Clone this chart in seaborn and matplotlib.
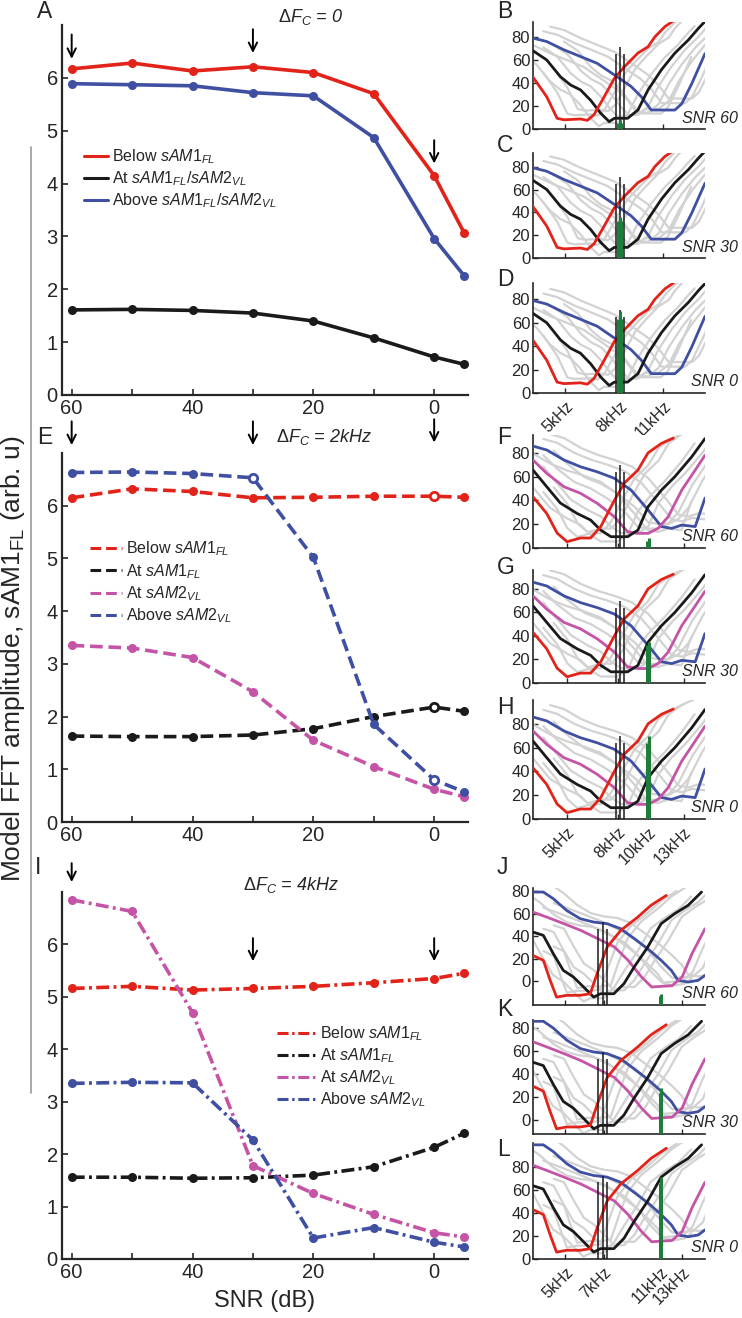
import matplotlib
matplotlib.use("Agg")
import matplotlib.pyplot as plt
from matplotlib.lines import Line2D
import numpy as np
import pandas as pd
import seaborn as sns

W, H = 742, 1318

# ---- main panels: model FFT amplitude vs SNR
snr = [60, 50, 40, 30, 20, 10, 0, -5]

a_below = [6.17, 6.28, 6.13, 6.21, 6.10, 5.70, 4.15, 3.06]
a_at = [1.61, 1.62, 1.60, 1.55, 1.40, 1.08, 0.72, 0.58]
a_above = [5.89, 5.87, 5.85, 5.72, 5.66, 4.87, 2.96, 2.25]

e_below = [6.15, 6.32, 6.27, 6.15, 6.16, 6.18, 6.18, 6.16]
e_at1 = [1.63, 1.62, 1.62, 1.65, 1.77, 2.00, 2.18, 2.10]
e_at2 = [3.35, 3.30, 3.12, 2.47, 1.55, 1.05, 0.62, 0.48]
e_above = [6.63, 6.64, 6.61, 6.53, 5.02, 1.85, 0.80, 0.57]

i_below = [5.16, 5.20, 5.13, 5.16, 5.20, 5.27, 5.35, 5.45]
i_at1 = [1.56, 1.56, 1.54, 1.55, 1.60, 1.76, 2.13, 2.40]
i_at2 = [6.85, 6.63, 4.70, 1.78, 1.25, 0.85, 0.50, 0.42]
i_above = [3.35, 3.37, 3.36, 2.27, 0.40, 0.60, 0.32, 0.23]

# hollow markers in E
e_hollow_series = ["above", "below", "at1", "above"]
e_hollow_snr = [30, 0, 0, 0]

# arrows (snr, top, tip)
arrow_snr = [60, 30, 0]
a_arrow_top = [6.82, 6.92, 4.82]
a_arrow_tip = [6.36, 6.47, 4.38]
e_arrow_top = [7.60, 7.60, 7.64]
e_arrow_tip = [7.15, 7.15, 7.20]
i_arrow_top = [7.55, 6.12, 6.12]
i_arrow_tip = [7.19, 5.68, 5.68]

# ---- right panels: tuning curves (x in % of panel width)
red_bd_x = [0, 8, 14, 18, 27.6, 31.6, 35.5, 41.4, 47.3, 53.1, 61, 66.9, 70.8, 76.7, 81.6]
red_bd_y = [45, 28, 9.3, 8, 8.7, 7.5, 12.5, 28, 44, 54, 66, 71.5, 80, 89, 94]
black_bd_x = [0, 8, 15.9, 21.8, 27.6, 33.5, 39.4, 44.3, 47.3, 55, 61, 66.9, 74.7, 82.5, 90.4, 96.3, 100]
black_bd_y = [68, 60, 45.5, 38.3, 34, 25, 13.6, 6.4, 9.3, 9.3, 16.5, 34, 51.6, 66, 77.5, 87.7, 93.5]
blue_bd_x = [0, 8, 18, 27.6, 37.4, 47.3, 57, 63, 68.8, 74.7, 82.5, 86.5, 92.3, 100]
blue_bd_y = [79, 76, 68.8, 63, 57, 47, 37, 28, 16.5, 16.5, 16.5, 22, 39.4, 65.5]

red_fh_x = [0, 8, 14, 19.8, 27.6, 33.5, 39.4, 47.3, 53.1, 61, 66.9, 74.7, 81.6]
red_fh_y = [43, 29, 12.6, 5.3, 8.4, 8.4, 18, 40, 54.6, 65.5, 80, 88, 92.4]
black_fh_x = [0, 8, 15.9, 25.7, 33.5, 39.4, 45.3, 55, 61, 66.9, 74.7, 82.5, 92.3, 100]
black_fh_y = [65.5, 51.5, 37.8, 29, 23.5, 15, 9.5, 9.5, 15, 34.7, 48.7, 60, 76.7, 92]
blue_fh_x = [0, 8, 18, 27.6, 37.4, 47.3, 57, 66.9, 74.7, 80.6, 86.5, 94.3, 100]
blue_fh_y = [85.7, 82.4, 74, 68.3, 64, 58.6, 48.7, 32, 18, 16.5, 19.3, 18, 42]
mag_fh_x = [0, 8, 18, 27.6, 37.4, 47.3, 55, 61, 66.9, 72.7, 78.6, 86.5, 94.3, 100]
mag_fh_y = [74, 62.7, 51.5, 46, 37.5, 26.3, 13.7, 12.3, 12.3, 16.5, 26.3, 48.7, 65.5, 78]

red_jl_x = [0, 6, 10, 13.7, 19.6, 27.5, 33.3, 37.3, 43.1, 51, 60.8, 68.6, 77.5]
red_jl_y = [23, 18.7, 0.9, -14, -12.4, -12.4, -11, 7, 30.5, 45.3, 57, 67.6, 76.4]
black_jl_x = [0, 6, 11.8, 17.6, 23.5, 29.4, 35.3, 39.2, 47, 52.9, 58.8, 66.7, 74.5, 82.4, 90.2, 98]
black_jl_y = [43.8, 40.9, 24.6, 9.8, 3.9, -5, -14, -11, -11, -2, 12.7, 30.5, 51.3, 60.2, 67.6, 79.4]
blue_jl_x = [0, 6, 11.8, 19.6, 27.5, 35.3, 43.1, 51, 58.8, 66.7, 74.5, 80.4, 84.3, 90.2, 96, 100]
blue_jl_y = [79.4, 79.4, 73.5, 63, 55.7, 52.7, 51.3, 46.8, 38, 29, 18.7, 9.8, 0.9, -0.6, 0.9, 5.3]
mag_jl_x = [0, 8.2, 18, 27.8, 37.6, 47.4, 55.3, 63.1, 69, 74.9, 80.8, 86.7, 92.5, 100]
mag_jl_y = [61.6, 57, 51.3, 45.3, 38, 30.5, 18.7, 3.9, -5, -4.4, -3.9, 3.9, 24.8, 46.8]
jkl_level = [0, 6.5, 20]  # overall level rise of the J/K/L responses

# neighbouring channels drawn in gray: template, x shift, y shift
gray_bd_tpl = ["red", "red", "black", "black", "black", "black", "blue", "blue", "blue"]
gray_bd_dx = [6, 12, -6, 6, 12, 18, -8, 6, 10]
gray_bd_dy = [4, 8, -4, 3, 5, 8, -3, 6, 10]
gray_fh_tpl = ["red", "red", "black", "black", "mag", "mag", "blue", "blue", "blue"]
gray_fh_dx = [6, 12, -6, 6, 6, 12, -8, 6, 10]
gray_fh_dy = [4, 8, -4, 3, 4, 8, -3, 6, 10]
gray_jl_tpl = ["red", "red", "black", "black", "black", "mag", "mag", "blue", "blue"]
gray_jl_dx = [6, 12, -6, 6, 12, 6, 12, -8, 6]
gray_jl_dy = [4, 8, -4, 3, 6, 4, 8, -3, 5]

# CF markers and stimulus (green) lines
cf_bd_u = [48, 50.4, 52.7]
cf_bd_h = [65, 71, 65]
cf_fh_u = [48, 50.4, 52.7]
cf_fh_h = [64, 70, 64]
cf_jl_u = [37.8, 40.6, 43.3]
cf_jl_h = [46.8, 52.7, 46.8]

green_bd_u = [49.6, 50.4, 51.2]
green_b_h = [5, 8, 5]
green_c_h = [32, 36, 32]
green_d_h = [63, 70, 63]
green_fh_u = [66.5, 67.2]
green_f_h = [6, 8]
green_g_h = [32, 35]
green_h_h = [64, 70]
green_jl_u = [73.9, 74.6]
green_j_h = [-13, -11]
green_k_h = [24, 28]
green_l_h = [66, 71]

tick_bd_u = [18.8, 50.2, 75.7]
tick_bd_lab = ["5kHz", "8kHz", "11kHz"]
tick_fh_u = [19.8, 49.2, 66.9, 87.5]
tick_fh_lab = ["5kHz", "8kHz", "10kHz", "13kHz"]
tick_jl_u = [18.8, 41, 74.3, 86.5]
tick_jl_lab = ["5kHz", "7kHz", "11kHz", "13kHz"]

RED = "#e2231a"
BLACK = "#1a1a1a"
BLUE = "#3f4fa2"
MAG = "#c554a6"
GREEN = "#1e7d3a"
GRAY = "#d2d2d2"

sns.set_style("ticks")
plt.rcParams["font.family"] = ["Liberation Sans", "DejaVu Sans"]
plt.rcParams["mathtext.fontset"] = "custom"
plt.rcParams["mathtext.rm"] = "Liberation Sans"
plt.rcParams["mathtext.it"] = "Liberation Sans:italic"

fig = plt.figure(figsize=(W / 100, H / 100), dpi=100)


def rect_px(x0, x1, y0, y1):
    return [x0 / W, 1 - y1 / H, (x1 - x0) / W, (y1 - y0) / H]


def ftext(x, y, s, **kw):
    fig.text(x / W, 1 - y / H, s, **kw)


def main_panel(rect, series, ls, arrows, leg_anchor, hlen, hollow=None):
    ax = fig.add_axes(rect)
    lookup = {}
    for key, label, vals, color in series:
        df = pd.DataFrame({"snr": snr, "amp": vals})
        sns.lineplot(data=df, x="snr", y="amp", ax=ax, color=color, lw=2.6,
                     linestyle=ls, marker="o", markersize=6.5,
                     markeredgewidth=0, sort=False, legend=False)
        lookup[key] = (vals, color)
    if hollow:
        for key, s in zip(*hollow):
            vals, color = lookup[key]
            ax.plot([s], [vals[snr.index(s)]], "o", ms=6, mfc="white",
                    mec=color, mew=2, zorder=5)
    for s, top, tip in zip(*arrows):
        ax.annotate("", xy=(s, tip), xytext=(s, top), annotation_clip=False,
                    arrowprops=dict(arrowstyle="->", lw=1.4, color="black",
                                    mutation_scale=15, shrinkA=0, shrinkB=0))
    ax.set_xlim(61.6, -5.6)
    ax.set_ylim(0, 7)
    ax.set_xticks([60, 50, 40, 30, 20, 10, 0])
    ax.set_xticklabels(["60", "", "40", "", "20", "", "0"])
    ax.set_yticks(range(7))
    ax.set_xlabel("")
    ax.set_ylabel("")
    ax.tick_params(direction="in", length=4, width=1.2, labelsize=14.5, pad=3)
    for sp in ["top", "right"]:
        ax.spines[sp].set_visible(False)
    for sp in ["left", "bottom"]:
        ax.spines[sp].set_linewidth(1.6)
    handles = [Line2D([], [], color=c, lw=2.2, linestyle=ls) for _, _, _, c in series]
    labels = [lab for _, lab, _, _ in series]
    ax.legend(handles, labels, loc="upper left", bbox_to_anchor=leg_anchor,
              frameon=False, fontsize=11.5, handlelength=hlen, handletextpad=0.25,
              labelspacing=0.22, borderpad=0, borderaxespad=0)
    return ax


axA = main_panel(rect_px(62, 468, 25, 395),
                 [("below", r"Below $sAM1_{FL}$", a_below, RED),
                  ("at", r"At $sAM1_{FL}/sAM2_{VL}$", a_at, BLACK),
                  ("above", r"Above $sAM1_{FL}/sAM2_{VL}$", a_above, BLUE)],
                 "-", (arrow_snr, a_arrow_top, a_arrow_tip), (0.055, 0.67), 1.5)

axE = main_panel(rect_px(62, 468, 453, 822),
                 [("below", r"Below $sAM1_{FL}$", e_below, RED),
                  ("at1", r"At $sAM1_{FL}$", e_at1, BLACK),
                  ("at2", r"At $sAM2_{VL}$", e_at2, MAG),
                  ("above", r"Above $sAM2_{VL}$", e_above, BLUE)],
                 (0, (3.5, 1.6)), (arrow_snr, e_arrow_top, e_arrow_tip),
                 (0.07, 0.765), 2.0, hollow=(e_hollow_series, e_hollow_snr))

axI = main_panel(rect_px(62, 468, 892, 1259),
                 [("below", r"Below $sAM1_{FL}$", i_below, RED),
                  ("at1", r"At $sAM1_{FL}$", i_at1, BLACK),
                  ("at2", r"At $sAM2_{VL}$", i_at2, MAG),
                  ("above", r"Above $sAM2_{VL}$", i_above, BLUE)],
                 (0, (3.6, 1.2, 0.8, 1.2)), (arrow_snr, i_arrow_top, i_arrow_tip),
                 (0.53, 0.64), 2.4)
axI.set_xlabel("SNR (dB)", fontsize=17, labelpad=6)

ftext(278, 17, r"$\Delta F_C$ = 0", fontsize=13, style="italic", ha="left", va="center")
ftext(276, 437, r"$\Delta F_C$ = 2kHz", fontsize=13, style="italic", ha="left", va="center")
ftext(243, 885, r"$\Delta F_C$ = 4kHz", fontsize=13, style="italic", ha="left", va="center")

ftext(13, 659, r"Model FFT amplitude, sAM1$_{\mathregular{FL}}$ (arb. u)",
      fontsize=19, rotation=90, ha="center", va="center")
fig.add_artist(Line2D([31 / W, 31 / W], [1 - 147 / H, 1 - 1093 / H],
                      color="0.6", lw=1.2))

for lab, x, y in [("A", 37, 12), ("E", 37, 437), ("I", 35, 868),
                  ("B", 497, 11), ("C", 497, 146), ("D", 497, 279),
                  ("F", 497, 437), ("G", 497, 567), ("H", 497, 707),
                  ("J", 497, 868), ("K", 497, 1009), ("L", 497, 1149)]:
    ftext(x, y, lab, fontsize=16.5, ha="left", va="center")

templates_bd = {"red": (red_bd_x, red_bd_y), "black": (black_bd_x, black_bd_y),
                "blue": (blue_bd_x, blue_bd_y)}
templates_fh = {"red": (red_fh_x, red_fh_y), "black": (black_fh_x, black_fh_y),
                "mag": (mag_fh_x, mag_fh_y), "blue": (blue_fh_x, blue_fh_y)}
templates_jl = {"red": (red_jl_x, red_jl_y), "black": (black_jl_x, black_jl_y),
                "mag": (mag_jl_x, mag_jl_y), "blue": (blue_jl_x, blue_jl_y)}
colors = {"red": RED, "black": BLACK, "mag": MAG, "blue": BLUE}


def tuning_panel(y0, y1, ylim, tpl, gray, cf_u, cf_h, g_u, g_h, ticks, labels,
                 show_labels, snr_txt, level=0):
    ax = fig.add_axes(rect_px(533, 705, y0, y1))
    for name, dx, dy in zip(*gray):
        xs, ys = tpl[name]
        ax.plot(np.array(xs) + dx, np.array(ys) + dy + level, color=GRAY, lw=1.6, zorder=1)
    order = [k for k in ["blue", "mag", "black", "red"] if k in tpl]
    for k in order:
        xs, ys = tpl[k]
        ax.plot(xs, np.array(ys) + level, color=colors[k], lw=2.0, zorder=3)
    ax.vlines(cf_u, ylim[0], np.array(cf_h) + level, color=BLACK, lw=1.1, zorder=4)
    ax.vlines(g_u, ylim[0], g_h, color=GREEN, lw=2.2, zorder=5)
    ax.set_xlim(0, 100)
    ax.set_ylim(*ylim)
    ax.set_yticks([0, 20, 40, 60, 80])
    ax.set_xticks(ticks)
    if show_labels:
        ax.set_xticklabels(labels, rotation=45, ha="right", rotation_mode="anchor")
    else:
        ax.set_xticklabels([])
    ax.tick_params(direction="in", length=3.5, width=1, labelsize=12, pad=2)
    ax.tick_params(axis="x", pad=4, labelsize=11.5)
    for sp in ["top", "right"]:
        ax.spines[sp].set_visible(False)
    for sp in ["left", "bottom"]:
        ax.spines[sp].set_linewidth(1.2)
    ax.text(1.19, 0.1, snr_txt, transform=ax.transAxes, ha="right", va="center",
            fontsize=11.5, style="italic", clip_on=False)
    return ax


g_bd = (gray_bd_tpl, gray_bd_dx, gray_bd_dy)
g_fh = (gray_fh_tpl, gray_fh_dx, gray_fh_dy)
g_jl = (gray_jl_tpl, gray_jl_dx, gray_jl_dy)

tuning_panel(22, 129, (0, 93), templates_bd, g_bd, cf_bd_u, cf_bd_h, green_bd_u, green_b_h,
             tick_bd_u, tick_bd_lab, False, "SNR 60")
tuning_panel(153, 258, (0, 92), templates_bd, g_bd, cf_bd_u, cf_bd_h, green_bd_u, green_c_h,
             tick_bd_u, tick_bd_lab, False, "SNR 30")
tuning_panel(283, 393, (0, 94), templates_bd, g_bd, cf_bd_u, cf_bd_h, green_bd_u, green_d_h,
             tick_bd_u, tick_bd_lab, True, "SNR 0")

tuning_panel(435, 548, (0, 95), templates_fh, g_fh, cf_fh_u, cf_fh_h, green_fh_u, green_f_h,
             tick_fh_u, tick_fh_lab, False, "SNR 60")
tuning_panel(570, 683, (0, 96), templates_fh, g_fh, cf_fh_u, cf_fh_h, green_fh_u, green_g_h,
             tick_fh_u, tick_fh_lab, False, "SNR 30")
tuning_panel(700, 819, (0, 100), templates_fh, g_fh, cf_fh_u, cf_fh_h, green_fh_u, green_h_h,
             tick_fh_u, tick_fh_lab, True, "SNR 0")

tuning_panel(888, 1005, (-21, 83), templates_jl, g_jl, cf_jl_u, cf_jl_h, green_jl_u, green_j_h,
             tick_jl_u, tick_jl_lab, False, "SNR 60", level=jkl_level[0])
tuning_panel(1020, 1134, (-12, 87), templates_jl, g_jl, cf_jl_u, cf_jl_h, green_jl_u, green_k_h,
             tick_jl_u, tick_jl_lab, False, "SNR 30", level=jkl_level[1])
tuning_panel(1143, 1259, (0, 101), templates_jl, g_jl, cf_jl_u, cf_jl_h, green_jl_u, green_l_h,
             tick_jl_u, tick_jl_lab, True, "SNR 0", level=jkl_level[2])

fig.savefig("out.png", dpi=100)
